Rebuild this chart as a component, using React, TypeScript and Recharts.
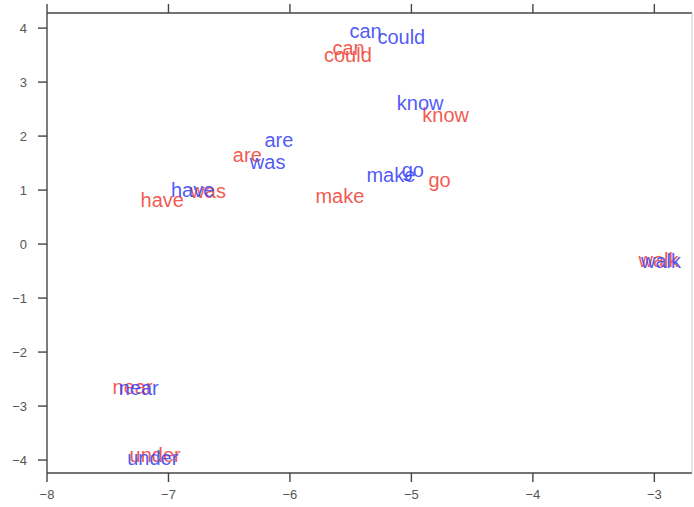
import React from "react";
import { ScatterChart, Scatter, XAxis, YAxis } from "recharts";

// word embedding projection: two spaces, same vocabulary
const words = ["can", "could", "know", "are", "was", "have", "make", "go", "walk", "near", "under"];
const blueX = [-5.51, -5.28, -5.12, -6.21, -6.33, -6.98, -5.37, -5.08, -3.11, -7.41, -7.34];
const blueY = [3.81, 3.7, 2.48, 1.8, 1.39, 0.87, 1.15, 1.24, -0.44, -2.8, -4.09];
const redX = [-5.65, -5.72, -4.91, -6.47, -6.82, -7.23, -5.79, -4.86, -3.13, -7.46, -7.32];
const redY = [3.5, 3.37, 2.26, 1.52, 0.85, 0.69, 0.76, 1.06, -0.43, -2.78, -4.04];

const xTicks = [-8, -7, -6, -5, -4, -3];
const yTicks = [-4, -3, -2, -1, 0, 1, 2, 3, 4];

const BLUE = "#3b45f6";
const RED = "#f0453a";
const AXIS = "#444";
const FONT = "'Liberation Sans', Arial, sans-serif";

const blueData = words.map((w, i) => ({ x: blueX[i], y: blueY[i], word: w }));
const redData = words.map((w, i) => ({ x: redX[i], y: redY[i], word: w }));

const fmt = (v: number) => String(v).replace("-", "\u2212");

const wordShape = (color: string) => (props: any) => (
  <text x={props.cx} y={props.cy} fill={color} fillOpacity={0.9} fontSize={20} fontFamily={FONT}>
    {props.payload.word}
  </text>
);

const tickStyle = { fontSize: 13, fill: "#555", fontFamily: FONT };
const line = { stroke: AXIS, strokeWidth: 1.4 };

export default function App() {
  return (
    <div style={{ position: "absolute", left: 0, top: 0, background: "#fff" }}>
      <ScatterChart width={694} height={507} margin={{ top: 0, right: 1, bottom: 0, left: 0 }}>
        <XAxis xAxisId="b" type="number" dataKey="x" domain={[-8, -2.69]} ticks={xTicks} allowDataOverflow
          height={34} tickSize={9} tickMargin={8} tickFormatter={fmt} tick={tickStyle}
          axisLine={line} tickLine={line} />
        <XAxis xAxisId="t" orientation="top" type="number" dataKey="x" domain={[-8, -2.69]} ticks={xTicks} allowDataOverflow
          height={13} tickSize={9} tick={() => <g />}
          axisLine={line} tickLine={line} />
        <YAxis yAxisId="l" type="number" dataKey="y" domain={[-4.24, 4.28]} ticks={yTicks} allowDataOverflow
          width={47} tickSize={9} tickMargin={11} tickFormatter={fmt} tick={tickStyle}
          axisLine={line} tickLine={line} />
        <YAxis yAxisId="r" orientation="right" type="number" dataKey="y" domain={[-4.24, 4.28]} allowDataOverflow
          width={1} tick={false} tickLine={false} axisLine={{ stroke: "#ccc", strokeWidth: 1 }} />
        <Scatter xAxisId="b" yAxisId="l" data={redData} shape={wordShape(RED)} isAnimationActive={false} />
        <Scatter xAxisId="b" yAxisId="l" data={blueData} shape={wordShape(BLUE)} isAnimationActive={false} />
      </ScatterChart>
    </div>
  );
}
